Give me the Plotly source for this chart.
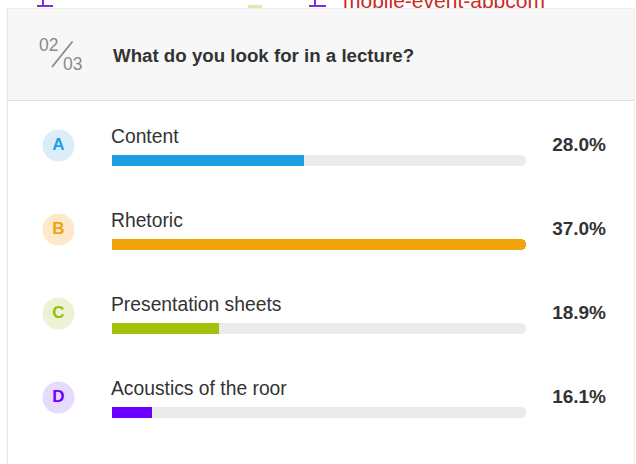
import plotly.graph_objects as go

# ---- data ----
letters = ["A", "B", "C", "D"]
options = ["Content", "Rhetoric", "Presentation sheets", "Acoustics of the roor"]
share_labels = ["28.0%", "37.0%", "18.9%", "16.1%"]
fill_pct = [46.4, 100.0, 25.8, 9.7]   # bar fill (% of track)
question = "What do you look for in a lecture?"
counter_num = "02"
counter_den = "03"

# ---- styles ----
W, H = 636, 464
bar_colors = ["#1d9fe2", "#f1a40b", "#a2c20b", "#6a00ff"]
badge_bg = ["#dcedfa", "#fde8cc", "#ecf3d5", "#e6dafd"]
badge_fg = ["#1d9fe2", "#f1a40b", "#9dbd0a", "#6a00ff"]
track_color = "#ebebeb"
text_color = "#333333"
FONT = "Liberation Sans, Arial, Helvetica, sans-serif"

row0, step = 160.5, 84.0
bar_y = [row0 + step * i for i in range(len(options))]
label_y = [y - 22.5 for y in bar_y]
pct_y = [y - 14.5 for y in bar_y]
badge_y = [y - 15 for y in bar_y]

fig = go.Figure()

# background fragments of the page behind the card
fig.add_trace(go.Scatter(
    x=[343], y=[2.5], mode="text", text=["mobile-event-appcom"],
    textposition="middle right", textfont=dict(family=FONT, size=21, color="#cc2a1e"),
    xaxis="x", yaxis="y", hoverinfo="skip", showlegend=False, cliponaxis=False))

# tracks
fig.add_trace(go.Bar(
    x=[100] * len(options), y=bar_y, orientation="h", width=10.5,
    marker=dict(color=track_color, cornerradius=5, line=dict(width=0)),
    xaxis="x2", yaxis="y", hoverinfo="skip", showlegend=False))

# fills (rounded)
fig.add_trace(go.Bar(
    x=fill_pct, y=bar_y, orientation="h", width=10.5,
    marker=dict(color=bar_colors, cornerradius=5, line=dict(width=0)),
    xaxis="x2", yaxis="y", hoverinfo="skip", showlegend=False))

# square right ends for partial fills
cut = [i for i, v in enumerate(fill_pct) if v < 100]
fig.add_trace(go.Bar(
    x=[1.5 for i in cut], base=[fill_pct[i] - 1.5 for i in cut],
    y=[bar_y[i] for i in cut], orientation="h", width=10.5,
    marker=dict(color=[bar_colors[i] for i in cut], line=dict(width=0)),
    xaxis="x2", yaxis="y", hoverinfo="skip", showlegend=False))

# badges
fig.add_trace(go.Scatter(
    x=[58.5] * len(letters), y=badge_y, mode="markers+text", text=letters,
    textposition="middle center",
    marker=dict(size=32, color=badge_bg, line=dict(width=0)),
    textfont=dict(family=FONT, size=17, color=badge_fg, weight="bold"),
    xaxis="x", yaxis="y", hoverinfo="skip", showlegend=False))

# option labels
fig.add_trace(go.Scatter(
    x=[111] * len(options), y=label_y, mode="text", text=options,
    textposition="middle right",
    textfont=dict(family=FONT, size=19.3, color=text_color),
    xaxis="x", yaxis="y", hoverinfo="skip", showlegend=False))

# percentages
fig.add_trace(go.Scatter(
    x=[606] * len(share_labels), y=pct_y, mode="text", text=share_labels,
    textposition="middle left",
    textfont=dict(family=FONT, size=19, color=text_color, weight="bold"),
    xaxis="x", yaxis="y", hoverinfo="skip", showlegend=False))

shapes = [
    # header background (covers the page behind)
    dict(type="rect", xref="x", yref="y", x0=7, x1=634, y0=8.5, y1=100.5,
         fillcolor="#f7f7f7", line=dict(width=0), layer="above"),
    dict(type="line", xref="x", yref="y", x0=7, x1=634, y0=8.5, y1=8.5,
         line=dict(color="#ececec", width=1), layer="above"),
    dict(type="line", xref="x", yref="y", x0=7, x1=634, y0=100.5, y1=100.5,
         line=dict(color="#dddddd", width=1), layer="above"),
    # card borders
    dict(type="line", xref="x", yref="y", x0=7.5, x1=7.5, y0=8.5, y1=464,
         line=dict(color="#e6e6e6", width=1.2), layer="above"),
    dict(type="line", xref="x", yref="y", x0=634.5, x1=634.5, y0=8.5, y1=464,
         line=dict(color="#eeeeee", width=1), layer="above"),
    # counter slash
    dict(type="line", xref="x", yref="y", x0=52, y0=67, x1=72.5, y1=41.5,
         line=dict(color="#8a8a8a", width=1.8), layer="above"),
    # fragments of page above the card
    dict(type="line", xref="x", yref="y", x0=37, x1=53, y0=6, y1=6,
         line=dict(color="#7b2fd6", width=2), layer="below"),
    dict(type="line", xref="x", yref="y", x0=43, x1=43, y0=-2, y1=6,
         line=dict(color="#7b2fd6", width=2), layer="below"),
    dict(type="line", xref="x", yref="y", x0=309, x1=326, y0=6, y1=6,
         line=dict(color="#7b2fd6", width=2), layer="below"),
    dict(type="line", xref="x", yref="y", x0=315, x1=315, y0=-2, y1=6,
         line=dict(color="#7b2fd6", width=2), layer="below"),
    dict(type="rect", xref="x", yref="y", x0=248, x1=262, y0=5, y1=8.5,
         fillcolor="#e3e8a8", line=dict(width=0), layer="below"),
]

annotations = [
    dict(x=37, y=45, xref="x", yref="y", text=counter_num, showarrow=False,
         xanchor="left", yanchor="middle",
         font=dict(family=FONT, size=17.5, color="#8a8a8a")),
    dict(x=61, y=63.5, xref="x", yref="y", text=counter_den, showarrow=False,
         xanchor="left", yanchor="middle",
         font=dict(family=FONT, size=17.5, color="#8a8a8a")),
    dict(x=111, y=55, xref="x", yref="y", text=question, showarrow=False,
         xanchor="left", yanchor="middle",
         font=dict(family=FONT, size=18.7, color=text_color, weight="bold")),
]

fig.update_layout(
    width=W, height=H, margin=dict(l=0, r=0, t=0, b=0),
    paper_bgcolor="white", plot_bgcolor="rgba(0,0,0,0)",
    barmode="overlay", bargap=0,
    xaxis=dict(domain=[0, 1], range=[0, W], visible=False, fixedrange=True),
    xaxis2=dict(domain=[112 / W, 526 / W], range=[0, 100], visible=False,
                anchor="y", fixedrange=True),
    yaxis=dict(domain=[0, 1], range=[H, 0], visible=False, fixedrange=True),
    shapes=shapes, annotations=annotations, showlegend=False,
)

fig.write_html(
    "out.html",
    config={"displayModeBar": False},
    post_script="document.body.style.margin='0';document.body.style.overflow='hidden';",
)
